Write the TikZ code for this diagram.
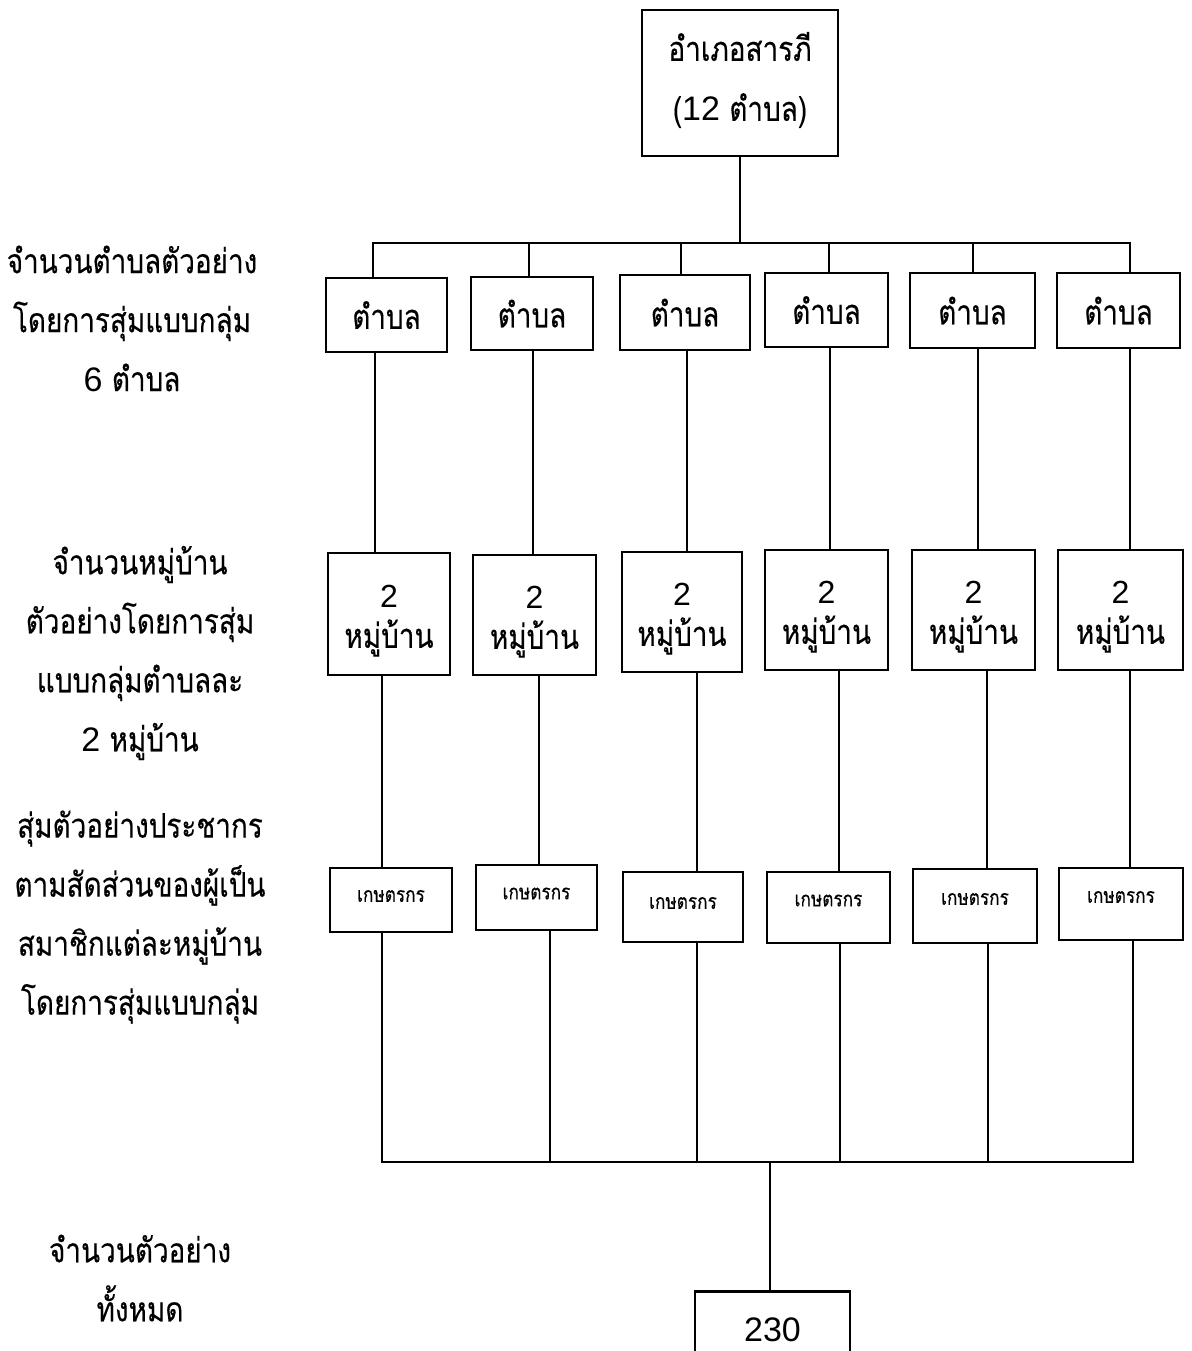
\documentclass[tikz,border=0pt]{standalone}
\usepackage{fontspec}
\setmainfont[Script=Thai,FakeStretch=0.82,FakeBold=0.3]{Loma}
\newfontfamily\lat{Liberation Sans}
\begin{document}
\begin{tikzpicture}[x=0.5pt,y=-0.5pt,
  box/.style={draw,line width=1.25pt,inner sep=0pt},
  txt/.style={align=center,inner sep=0pt},
  conn/.style={line width=1.05pt},
  big/.style={font=\fontsize{17}{30}\selectfont},
  mid/.style={font=\fontsize{17}{20}\selectfont},
  small/.style={font=\fontsize{10.5}{12}\selectfont},
  lbl/.style={align=center,inner sep=0pt,font=\fontsize{17}{29.5}\selectfont}]
\useasboundingbox (0,0) rectangle (1191,1351);
\clip (0,0) rectangle (1191,1351);

% top box
\node[box,minimum width=98pt,minimum height=73pt] (top) at (740,83) {};
\node[txt,big] (topt) at (740,80) {อำเภอสารภี\\({\lat 12} ตำบล)};

% tambon boxes
\foreach \i/\x/\y/\w/\h in {1/386.5/315/121/74, 2/532/313.5/122/73, 3/685/312.5/130/75,
    4/826.5/310/123/74, 5/972.5/310.5/125/75, 6/1118.5/310.5/123/75} {
  \node[box,minimum width={\w*0.5pt},minimum height={\h*0.5pt}] (T\i) at (\x,\y) {};
  \node[txt,big] (Tt\i) at (\x,\y) {ตำบล};
}

% village boxes
\foreach \i/\x/\y/\w/\h in {1/389/614/122/122, 2/534.5/615/123/120, 3/682/612/120/120,
    4/826.5/610/123/120, 5/973.5/610/123/120, 6/1120.5/610/125/120} {
  \node[box,minimum width={\w*0.5pt},minimum height={\h*0.5pt}] (V\i) at (\x,\y) {};
  \node[txt,mid] (Vt\i) at (\x,\y+7) {{\lat\fontsize{16}{20}\selectfont 2}\\หมู่บ้าน};
}

% farmer boxes
\foreach \i/\x/\y/\w/\h/\s in {1/391/900/122/64/4, 2/536.5/897.5/121/65/4, 3/683/907/120/70/4,
    4/828.5/907.5/123/71/7, 5/975/906/124/74/7, 6/1121/904/124/72/7} {
  \node[box,minimum width={\w*0.5pt},minimum height={\h*0.5pt}] (F\i) at (\x,\y) {};
  \node[txt,small] (Ft\i) at (\x,\y-\s) {เกษตรกร};
}

% total box
\node[box,anchor=north,minimum width=77.5pt,text height=25.2pt,text depth=30pt,
  font=\lat\fontsize{17}{20}\selectfont] (tot) at (772.5,1290) {230};

% junction coordinates
\foreach \i/\a/\b/\c/\d in {1/373/375/382/382, 2/529/533/539/550, 3/681/687/697/697,
    4/829/830/839/840, 5/973/978/987/988, 6/1130/1130/1130/1133} {
  \coordinate (a\i) at (\a,243);
  \coordinate (b\i) at (\b,0);
  \coordinate (c\i) at (\c,0);
  \coordinate (d\i) at (\d,1162);
}
\coordinate (m) at (770,1162);

% connectors
\draw[conn] (top.south) -- (top.south |- a1);
\draw[conn,line cap=rect] (a1) -- (a6);
\draw[conn,line cap=rect] (d1) -- (d6);
\foreach \i in {1,...,6} {
  \draw[conn] (a\i) -- (a\i |- T\i.north);
  \draw[conn] (b\i |- T\i.south) -- (b\i |- V\i.north);
  \draw[conn] (c\i |- V\i.south) -- (c\i |- F\i.north);
  \draw[conn] (d\i |- F\i.south) -- (d\i);
}
\draw[conn] (m) -- (m |- tot.north);

% left labels
\node[lbl] (L1) at (132,318.5) {จำนวนตำบลตัวอย่าง\\โดยการสุ่มแบบกลุ่ม\\{\lat 6} ตำบล};
\node[lbl] (L2) at (140,653) {จำนวนหมู่บ้าน\\ตัวอย่างโดยการสุ่ม\\แบบกลุ่มตำบลละ\\{\lat 2} หมู่บ้าน};
\node[lbl] (L3) at (140,917) {สุ่มตัวอย่างประชากร\\ตามสัดส่วนของผู้เป็น\\สมาชิกแต่ละหมู่บ้าน\\โดยการสุ่มแบบกลุ่ม};
\node[lbl] (L4) at (140,1278) {จำนวนตัวอย่าง\\ทั้งหมด};
\end{tikzpicture}
\end{document}
